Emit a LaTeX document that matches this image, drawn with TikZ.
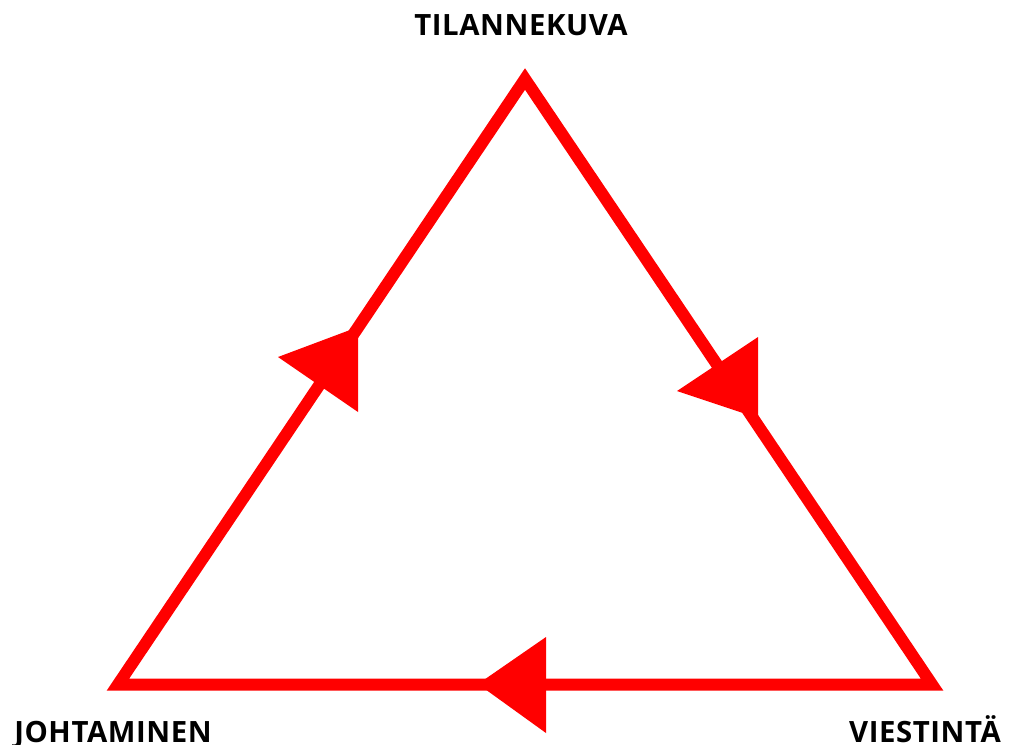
\documentclass[tikz,border=0pt]{standalone}
\usepackage{fontspec}
\setmainfont{Open Sans}
\newfontfamily\labelfont[LetterSpace=2]{Open Sans}
\definecolor{cyclered}{RGB}{255,0,0}
\tikzset{
  edge/.style={draw=cyclered, line width=9pt, line join=miter},
  head/.style={fill=cyclered},
  label/.style={anchor=base, inner sep=0pt, font=\labelfont\fontsize{22}{24}\selectfont\bfseries}
}

\begin{document}
\begin{tikzpicture}[x=0.75pt,y=-0.75pt]
\useasboundingbox (0,0) rectangle (1009,744);
\coordinate (top) at (525,79);
\coordinate (left) at (118,684.5);
\coordinate (right) at (932,684.5);
\draw[edge] (left) -- (top) -- (right) -- cycle;
% arrowheads
\fill[head] (278,357) -- (358,327) -- (358,412) -- cycle;
\fill[head] (677,391) -- (758,337) -- (758,418) -- cycle;
\fill[head] (478,684) -- (546,637) -- (546,733) -- cycle;
\node[label] (tilanne) at (521,35) {TILANNEKUVA};
\node[label] (johtam) at (113,742) {JOHTAMINEN};
\node[label] (viest) at (925,742) {VIESTINTÄ};
\end{tikzpicture}
\end{document}
